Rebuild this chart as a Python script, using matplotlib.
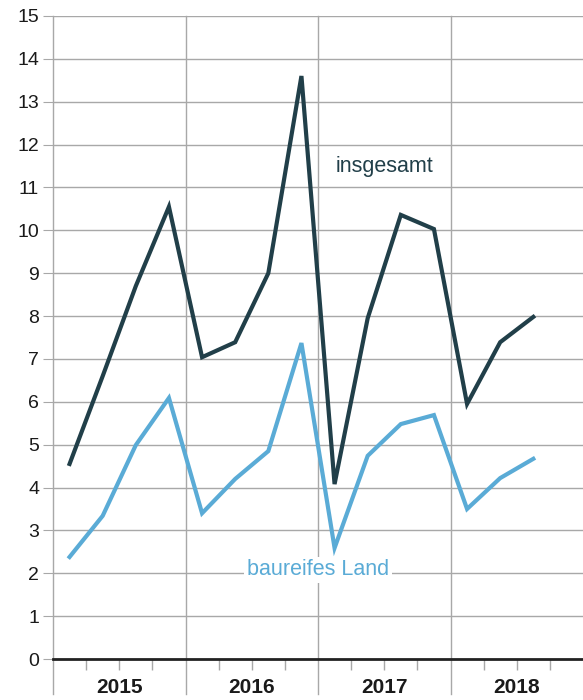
import matplotlib
matplotlib.use("Agg")
import matplotlib.pyplot as plt
import numpy as np

plt.rcParams['font.family'] = ['Liberation Sans', 'DejaVu Sans']

years = ['2015', '2016', '2017', '2018']
insgesamt = [4.55, 6.6, 8.7, 10.55, 7.04, 7.39, 9.0, 13.6, 4.08, 7.95, 10.36, 10.03, 5.95, 7.39, 7.98]
baureif = [2.38, 3.34, 4.99, 6.09, 3.4, 4.2, 4.85, 7.37, 2.59, 4.74, 5.48, 5.69, 3.5, 4.22, 4.67]

dark = '#213f49'
light = '#5aabd6'
grid = '#a8a8a8'

fig = plt.figure(figsize=(5.83, 7.0), dpi=100)
ax = fig.add_axes([53/583, 41/700, 530/583, 643/700])

x = np.arange(len(insgesamt)) + 0.5
ax.plot(x, insgesamt, color=dark, lw=3, zorder=3, solid_joinstyle='miter')
ax.plot(x, baureif, color=light, lw=3, zorder=3, solid_joinstyle='miter')

ax.set_xlim(0, 16)
ax.set_ylim(0, 15)
ax.set_yticks(range(16))
ax.yaxis.grid(True, color=grid, lw=1)
ax.tick_params(axis='y', length=7, color=grid, labelsize=14, pad=3, labelcolor='#1a1a1a')

for s in ['top', 'right', 'left']:
    ax.spines[s].set_visible(False)
ax.spines['bottom'].set_color('#222222')
ax.spines['bottom'].set_linewidth(2)
ax.spines['bottom'].set_zorder(4)

# year separators
for k in range(4):
    ax.axvline(4 * k, ymin=-0.054, ymax=1, color=grid, lw=1, clip_on=False, zorder=1)

qt = [q for q in range(1, 16) if q % 4 != 0]
ax.set_xticks(qt)
ax.set_xticklabels([])
ax.tick_params(axis='x', length=8, color=grid, width=1)

for k, yr in enumerate(years):
    ax.text(4 * k + 2, -0.66, yr, ha='center', va='center', fontsize=15,
            fontweight='bold', color='#1a1a1a', transform=ax.transData)

ax.text(10.0, 11.5, 'insgesamt', color=dark, fontsize=15.5, ha='center', va='center')
ax.text(8.0, 2.08, 'baureifes Land', color=light, fontsize=15.5, ha='center', va='center',
        bbox=dict(facecolor='white', edgecolor='none', pad=2), zorder=2)

fig.savefig('out.png', dpi=100)
